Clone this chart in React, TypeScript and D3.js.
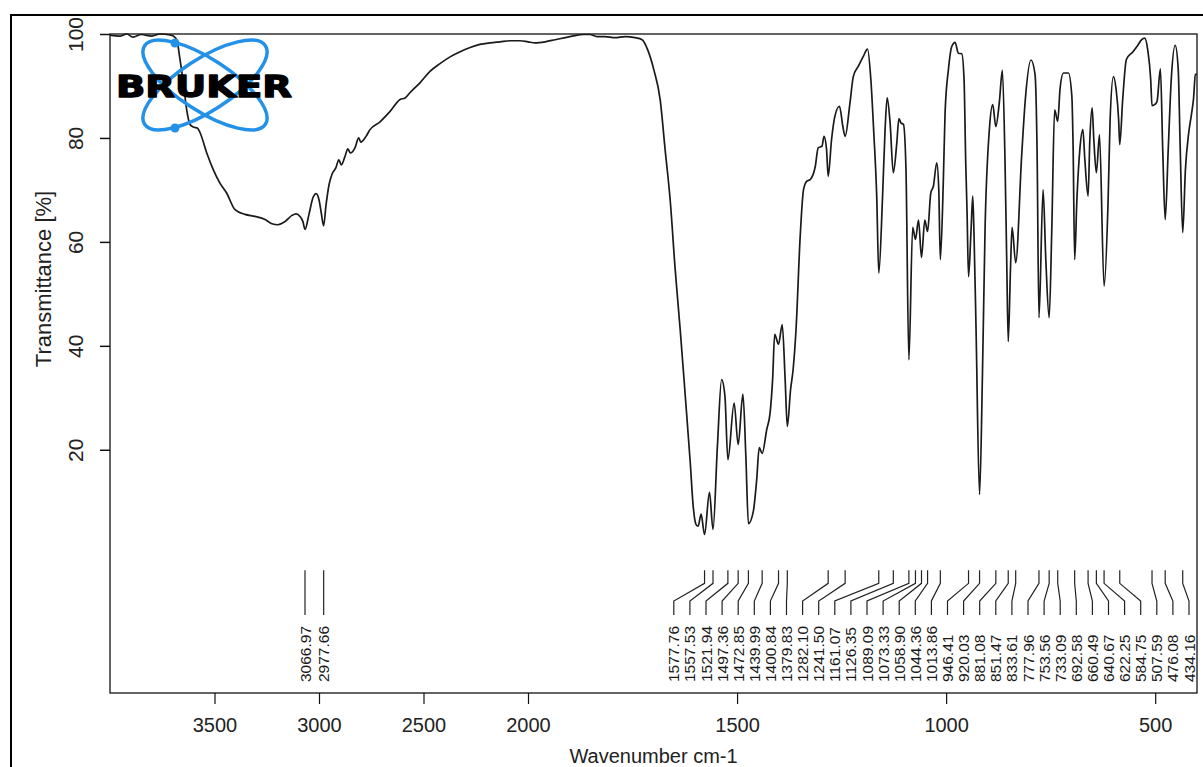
import React, { useRef, useEffect } from 'react';
import * as d3 from 'd3';

// spectrum (wavenumber cm-1, transmittance %)
const wavenumbers = [
    4000, 3950, 3920, 3890, 3850, 3800, 3761, 3713, 3697, 3681, 3665, 3649, 3633, 3617, 3601, 3582,
    3569, 3537, 3506, 3474, 3442, 3402, 3354, 3306, 3258, 3225, 3196, 3163, 3129, 3110, 3091, 3077,
    3067, 3048, 3029, 3014, 3000, 2990, 2978, 2966, 2952, 2938, 2919, 2905, 2893, 2876, 2862, 2850,
    2828, 2810, 2800, 2775, 2756, 2708, 2660, 2612, 2588, 2565, 2517, 2469, 2421, 2373, 2325, 2277,
    2230, 2182, 2134, 2086, 2038, 2000, 1983, 1959, 1935, 1911, 1888, 1868, 1852, 1835, 1816, 1792,
    1768, 1744, 1727, 1713, 1699, 1684, 1672, 1660, 1648, 1636, 1624, 1612, 1605, 1598, 1593, 1586,
    1577.76, 1566, 1557.53, 1547, 1537, 1529, 1521.94, 1507, 1497.36, 1486, 1479, 1472.85, 1461, 1453,
    1447, 1439.99, 1429, 1421, 1415, 1410, 1400.84, 1392, 1385, 1379.83, 1372, 1366, 1359, 1349, 1341,
    1333, 1325, 1313, 1306, 1297, 1292, 1286, 1282.1, 1274, 1266, 1255, 1247, 1241.5, 1230, 1222, 1210,
    1198, 1188, 1180, 1173, 1166, 1161.07, 1152, 1146, 1141, 1134, 1126.35, 1118, 1113, 1108, 1102,
    1096, 1089.09, 1080, 1073.33, 1066, 1058.9, 1051, 1044.36, 1036.7, 1030.5, 1022.4, 1017.6, 1013.86,
    1006.6, 1002.5, 994.6, 986.5, 978.6, 970.7, 962.6, 957.1, 953.1, 950, 946.41, 940.3, 936.3, 933.2,
    928.4, 920.03, 913, 906.9, 896.6, 888.5, 881.08, 872.7, 865.5, 859.1, 855, 851.47, 846, 842.3,
    833.61, 819.4, 810.6, 797, 787.3, 782.5, 777.96, 768.1, 761.6, 753.56, 747.3, 740.5, 733.09, 727.3,
    719.4, 707.5, 699.3, 696.2, 692.58, 687.3, 680.2, 673, 668.2, 660.49, 656.3, 650.8, 646.8, 640.67,
    633.2, 622.25, 612.6, 607.8, 599.9, 593.4, 587.4, 584.75, 577.7, 568.9, 553.1, 541.9, 532.3, 525.1,
    517.9, 510.7, 507.59, 500, 495.6, 487.5, 482, 476.08, 468.8, 461.6, 452.1, 444.9, 440.1, 434.16,
    427.7, 419.8, 413.3, 408.5, 403.8, 400
];
const transmittance = [
    99.8, 99.6, 100, 99.4, 99.9, 99.6, 100, 99.8, 99.6, 98.9, 95.1, 90.6, 85.4, 82.6, 82.1, 81.9,
    81, 77.1, 73.9, 71.3, 69.4, 66.2, 65.3, 64.9, 64.3, 63.5, 63.3, 63.9, 65.1, 65.4, 64.9, 63.9,
    62.4, 65.3, 68.5, 69.3, 68.1, 65.8, 63.1, 67.2, 71, 73, 74.3, 75.8, 74.8, 76.4, 77.9, 77.1,
    78.1, 80, 79.2, 80.3, 81.6, 83.1, 85.1, 87.4, 87.7, 88.7, 90.6, 92.8, 94.3, 95.6, 96.6, 97.4,
    98, 98.3, 98.5, 98.7, 98.7, 98.5, 98.3, 98.5, 98.9, 99.3, 99.7, 99.9, 99.9, 99.5, 99.5, 99.3,
    99.5, 99.3, 98.9, 96.8, 93.1, 87.4, 77.7, 68.1, 54.7, 43.1, 30.5, 17.6, 9.2, 5.6, 5.3, 7.6,
    3.7, 11.8, 4.7, 20.7, 33.5, 30.3, 18.1, 29, 21, 30.7, 18.8, 5.8, 8.2, 14.3,
    20.4, 19.3, 23.9, 27.1, 33.5, 42.2, 40.3, 44.1, 33.5, 24.5, 31.6, 35.4, 43.1, 61.1, 70.1,
    71.7, 72, 74.5, 78.1, 78.4, 80.3, 77.8, 72.6, 79.7, 84.2, 86.1, 82.2, 80.3, 86.7, 91.8, 93.8,
    95.7, 97.1, 91.2, 81, 68.8, 54, 68.8, 81.6, 87.7, 82.9, 73.3, 79, 83.7, 82.9, 82.6,
    73.9, 37.3, 62.8, 60.5, 64.2, 57, 64.2, 62, 69.4, 70.7, 75.2, 70.1, 56.6,
    72, 84.8, 93.1, 97.6, 98.4, 96.3, 96.2, 91.2, 75.2, 66, 53.3, 62.4, 68.8, 61.1,
    43.1, 11.4, 35, 62.4, 81.6, 86.4, 82.2, 86.9, 93, 75.2, 56, 40.8, 55, 62.8,
    56, 76.5, 87.4, 95, 92.2, 77.8, 45.4, 70, 56.6, 45.4, 62.4, 85.4, 83.2, 89.7,
    92.5, 92.5, 88, 77.8, 56.6, 68, 77.8, 81.6, 75.8, 68.8, 79.7, 85.8, 79.7, 73.3,
    80.6, 51.5, 68, 83.5, 91.8, 89.3, 83.5, 78.7, 87.4, 95.1, 96.6, 97.8, 98.9, 99.2,
    97, 91.2, 86.2, 86.5, 87, 93.3, 77.8, 64.3, 77.8, 91.2, 97.8, 93.2, 77.8, 61.8,
    73.9, 81, 84.5, 87.4, 92.2, 92.3
];

// peak picks printed under the spectrum
const peakLabels = [
    3066.97, 2977.66, 1577.76, 1557.53, 1521.94, 1497.36, 1472.85, 1439.99, 1400.84, 1379.83, 1282.10,
    1241.50, 1161.07, 1126.35, 1089.09, 1073.33, 1058.90, 1044.36, 1013.86, 946.41, 920.03, 881.08,
    851.47, 833.61, 777.96, 753.56, 733.09, 692.58, 660.49, 640.67, 622.25, 584.75, 507.59, 476.08, 434.16
];

const xTicks = [3500, 3000, 2500, 2000, 1500, 1000, 500];
const yTicks = [20, 40, 60, 80, 100];

const WIDTH = 1203;
const HEIGHT = 767;
const FONT = "'Liberation Sans', Arial, Helvetica, sans-serif";
const BLUE = '#2491e8';

// spread labels so they keep a minimum gap, groups centred on their peaks
function spreadLabels(xs: number[], gap: number, minX: number, maxX: number): number[] {
    const groups: { i0: number; n: number; pos: number }[] = [];
    const place = (g: { i0: number; n: number; pos: number }) => {
        let s = 0;
        for (let k = 0; k < g.n; k++) s += xs[g.i0 + k] - k * gap;
        g.pos = s / g.n;
        g.pos = Math.max(minX, Math.min(maxX - (g.n - 1) * gap, g.pos));
    };
    xs.forEach((_, i) => {
        const g = { i0: i, n: 1, pos: xs[i] };
        place(g);
        groups.push(g);
        while (groups.length > 1) {
            const b = groups[groups.length - 1];
            const a = groups[groups.length - 2];
            if (a.pos + a.n * gap <= b.pos) break;
            groups.pop();
            a.n += b.n;
            place(a);
        }
    });
    const out: number[] = [];
    groups.forEach(g => { for (let k = 0; k < g.n; k++) out.push(g.pos + k * gap); });
    return out;
}

const App: React.FC = () => {
    const svgRef = useRef<SVGSVGElement>(null);

    useEffect(() => {
        if (!svgRef.current) return;
        const svg = d3.select(svgRef.current);
        svg.selectAll('*').remove();

        const plot = { left: 110, right: 1197, top: 34, bottom: 693 };

        // OPUS style: 4000-2000 compressed to half scale
        const x = d3.scaleLinear().domain([4000, 2000, 400]).range([plot.left, 528, plot.right]);
        const y = d3.scaleLinear().domain([-26.8, 100]).range([plot.bottom, plot.top]);

        svg.append('rect').attr('width', WIDTH).attr('height', HEIGHT).attr('fill', '#fff');

        // outer frame
        svg.append('rect')
            .attr('x', 11).attr('y', 15)
            .attr('width', 1200).attr('height', 760)
            .attr('fill', 'none').attr('stroke', '#000').attr('stroke-width', 2);

        // plot box
        svg.append('rect')
            .attr('x', plot.left).attr('y', plot.top)
            .attr('width', plot.right - plot.left).attr('height', plot.bottom - plot.top)
            .attr('fill', 'none').attr('stroke', '#111').attr('stroke-width', 1.3);

        // x axis
        const xAxis = svg.append('g')
            .attr('transform', `translate(0,${plot.bottom})`)
            .call(d3.axisBottom(x).tickValues(xTicks).tickSize(11).tickPadding(14).tickFormat(d3.format('d')));
        xAxis.select('.domain').remove();
        xAxis.selectAll('line').attr('stroke', '#111').attr('stroke-width', 1.2);
        xAxis.selectAll('text')
            .attr('font-family', FONT).attr('font-size', 20).attr('fill', '#222');

        // y axis, labels rotated
        const yAxis = svg.append('g')
            .attr('transform', `translate(${plot.left},0)`)
            .call(d3.axisLeft(y).tickValues(yTicks).tickSize(10));
        yAxis.select('.domain').remove();
        yAxis.selectAll('line').attr('stroke', '#111').attr('stroke-width', 1.5);
        yAxis.selectAll('text')
            .attr('transform', 'rotate(-90)')
            .attr('x', 0).attr('y', -27).attr('dy', 0)
            .attr('text-anchor', 'middle')
            .attr('font-family', FONT).attr('font-size', 21).attr('fill', '#222');

        svg.append('text')
            .attr('transform', `translate(51,279) rotate(-90)`)
            .attr('text-anchor', 'middle')
            .attr('font-family', FONT).attr('font-size', 22).attr('fill', '#222')
            .text('Transmittance [%]');

        svg.append('text')
            .attr('x', (plot.left + plot.right) / 2).attr('y', 763)
            .attr('text-anchor', 'middle')
            .attr('font-family', FONT).attr('font-size', 20).attr('fill', '#222')
            .text('Wavenumber cm-1');

        // spectrum
        const data = wavenumbers.map((w, i) => [w, transmittance[i]] as [number, number]);
        const line = d3.line<[number, number]>()
            .x(d => x(d[0]))
            .y(d => y(d[1]))
            .curve(d3.curveMonotoneX);
        svg.append('path')
            .datum(data)
            .attr('fill', 'none')
            .attr('stroke', '#1a1a1a')
            .attr('stroke-width', 1.7)
            .attr('stroke-linejoin', 'round')
            .attr('d', line);

        // peak labels
        const px = peakLabels.map(w => x(w));
        const lx = spreadLabels(px, 16.1, plot.left + 8, plot.right - 8);
        const yTop = y(-3.2), yBend1 = y(-5.7), yBend2 = y(-9.1), yBot = y(-11.8);
        const leader = d3.line();
        peakLabels.forEach((w, i) => {
            svg.append('path')
                .attr('d', leader([[px[i], yTop], [px[i], yBend1], [lx[i], yBend2], [lx[i], yBot]]))
                .attr('fill', 'none').attr('stroke', '#222').attr('stroke-width', 1.2);
            svg.append('text')
                .attr('transform', `translate(${lx[i]},682) rotate(-90)`)
                .attr('dominant-baseline', 'central')
                .attr('font-family', FONT).attr('font-size', 15.5).attr('fill', '#1a1a1a')
                .text(d3.format('.2f')(w));
        });

        // Bruker logo
        const logo = svg.append('g').attr('transform', 'translate(205,85)');
        [33, -33].forEach(a => {
            logo.append('ellipse')
                .attr('rx', 72).attr('ry', 26)
                .attr('transform', `rotate(${a})`)
                .attr('fill', 'none').attr('stroke', BLUE).attr('stroke-width', 3.5);
        });
        logo.append('text')
            .attr('x', -89).attr('y', 12)
            .attr('textLength', 176).attr('lengthAdjust', 'spacingAndGlyphs')
            .attr('font-family', "'DejaVu Sans', sans-serif").attr('font-weight', 'bold')
            .attr('font-size', 30).attr('fill', '#000')
            .attr('stroke', '#000').attr('stroke-width', 1.4).attr('stroke-linejoin', 'round')
            .text('BRUKER');
        [[-30, -42], [-30, 43]].forEach(([cx, cy]) => {
            logo.append('circle').attr('cx', cx).attr('cy', cy).attr('r', 4.5).attr('fill', BLUE);
        });
    }, []);

    return (
        <svg
            ref={svgRef}
            width={WIDTH}
            height={HEIGHT}
            style={{ position: 'absolute', left: 0, top: 0, display: 'block' }}
        />
    );
};

export default App;
